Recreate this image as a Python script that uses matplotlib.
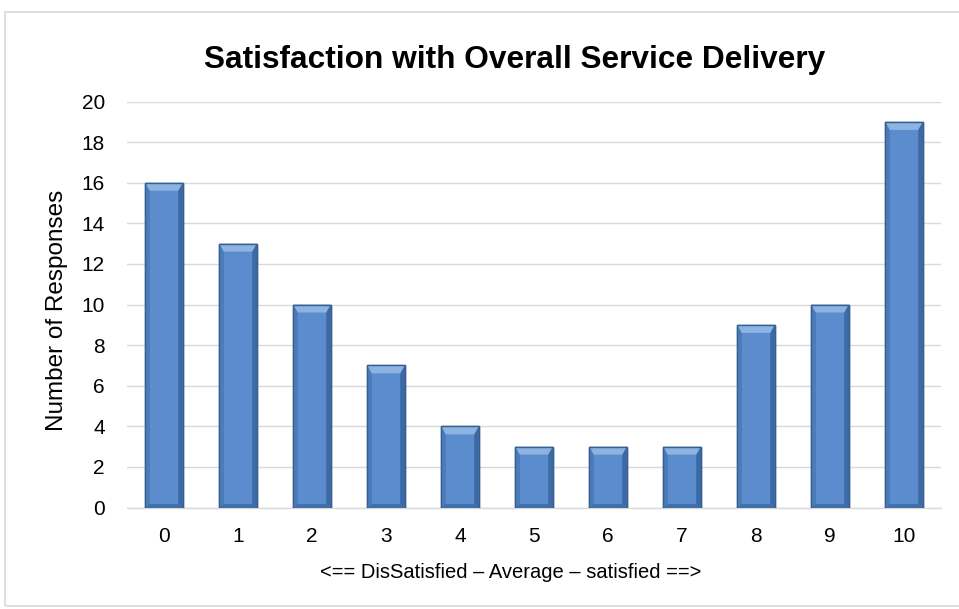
import matplotlib
matplotlib.use("Agg")
import matplotlib.pyplot as plt
from matplotlib.patches import Polygon, Rectangle
import numpy as np

plt.rcParams['font.family'] = ['Liberation Sans', 'DejaVu Sans']

categories = ['0', '1', '2', '3', '4', '5', '6', '7', '8', '9', '10']
responses = [16, 13, 10, 7, 4, 3, 3, 3, 9, 10, 19]
title = 'Satisfaction with Overall Service Delivery'
xlabel = '<== DisSatisfied \u2013 Average \u2013 satisfied ==>'
ylabel = 'Number of Responses'

W, H = 959, 609
fig = plt.figure(figsize=(W / 100, H / 100), dpi=100)
fig.patch.set_facecolor('white')
# outer chart border
fig.patches.append(Rectangle((5 / W, 3 / H), 960 / W, 594 / H, transform=fig.transFigure,
                             fill=False, edgecolor='#d9d9d9', linewidth=1.2))

ax = fig.add_axes([127 / W, 1 - 507.5 / H, (941 - 127) / W, (507.5 - 101.5) / H])
x = np.arange(len(categories))
bars = ax.bar(x, responses, width=0.51, color='#4f81bd', edgecolor='#3a6399', linewidth=1.0, zorder=3)

# bevel effect derived from bar geometry
for b in bars:
    x0, y0 = b.get_x(), b.get_y()
    w, h = b.get_width(), b.get_height()
    bx = w * 0.12
    by = 0.4
    ax.add_patch(Rectangle((x0 + bx, y0 + by * 0.4), w - 2 * bx, h - by * 1.4,
                           facecolor='#5a8cce', edgecolor='none', zorder=3.5))
    # top bevel
    ax.add_patch(Polygon([(x0, h), (x0 + w, h), (x0 + w - bx, h - by), (x0 + bx, h - by)],
                         closed=True, facecolor='#8db3e2', edgecolor='none', zorder=4))
    # bottom bevel
    ax.add_patch(Polygon([(x0, y0), (x0 + w, y0), (x0 + w - bx, y0 + by * 0.4), (x0 + bx, y0 + by * 0.4)],
                         closed=True, facecolor='#3f6eab', edgecolor='none', zorder=4))
    # left bevel
    ax.add_patch(Polygon([(x0, y0), (x0 + bx, y0 + by * 0.4), (x0 + bx, h - by), (x0, h)],
                         closed=True, facecolor='#4a7cbc', edgecolor='none', zorder=4))
    # right bevel
    ax.add_patch(Polygon([(x0 + w, y0), (x0 + w - bx, y0 + by * 0.4), (x0 + w - bx, h - by), (x0 + w, h)],
                         closed=True, facecolor='#3d6aa6', edgecolor='none', zorder=4))
    ax.add_patch(Rectangle((x0, y0), w, h, facecolor='none', edgecolor='#37608f', linewidth=1.0, zorder=5))

ax.set_xlim(-0.5, len(categories) - 0.5)
ax.set_ylim(0, 20)
ax.set_yticks(np.arange(0, 21, 2))
ax.set_xticks(x)
ax.set_xticklabels(categories)
ax.tick_params(axis='both', length=0, labelsize=15, colors='black')
ax.tick_params(axis='y', pad=16)
ax.tick_params(axis='x', pad=14)
ax.yaxis.grid(True, color='#d9d9d9', linewidth=1.0, zorder=0)
ax.set_axisbelow(True)
for s in ['top', 'right', 'left']:
    ax.spines[s].set_visible(False)
ax.spines['bottom'].set_color('#d9d9d9')
ax.spines['bottom'].set_linewidth(1.0)

fig.text(511 / W, 1 - 572 / H, xlabel, ha='center', va='center', fontsize=14.5)
fig.text(57 / W, 1 - 310 / H, ylabel, ha='center', va='center', rotation=90, fontsize=17.5)
fig.text(515 / W, 1 - 60 / H, title, ha='center', va='center', fontsize=22.8, fontweight='bold')

fig.savefig('out.png', dpi=100)
